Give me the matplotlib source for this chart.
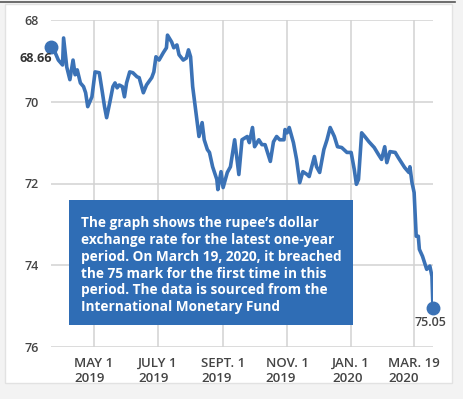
import numpy as np
import matplotlib.pyplot as plt
from matplotlib.patches import Rectangle

plt.rcParams['font.family'] = ['Open Sans', 'DejaVu Sans']

# rupee per dollar, days counted from 1 May 2019
days = [-41, -37, -34, -30, -29, -26, -23, -20, -18, -16, -13, -10, -8, -6, -2,
        1, 5, 8, 10, 12, 15, 18, 20, 22, 24, 27, 29, 31, 34, 37, 41, 43, 47, 50,
        55, 57, 59, 62, 66, 69, 70, 74, 76, 79, 81, 85, 88, 90, 92, 94, 98, 100,
        103, 105, 108, 110, 113, 117, 118, 121, 123, 127, 130, 134, 138, 141,
        146, 148, 151, 153, 157, 160, 163, 168, 171, 174, 177, 181, 182, 184,
        186, 190, 193, 196, 199, 203, 205, 210, 212, 215, 219, 222, 225, 229,
        232, 236, 241, 245, 248, 250, 252, 255, 258, 262, 267, 271, 274, 277,
        279, 282, 287, 290, 293, 296, 300, 301, 303, 305, 307, 309, 310, 313,
        317, 320, 322, 323]
rate = [68.66, 68.80, 68.98, 69.10, 68.44, 69.15, 69.46, 68.98, 69.34, 69.22,
        69.54, 69.63, 69.78, 70.12, 69.88, 69.27, 69.29, 69.78, 70.12, 70.39,
        70.02, 69.63, 69.54, 69.66, 69.59, 69.63, 69.88, 69.54, 69.27, 69.29,
        69.39, 69.41, 69.78, 69.59, 69.41, 69.27, 68.90, 68.98, 68.80, 68.68,
        68.37, 68.54, 68.68, 68.61, 68.85, 68.98, 68.93, 68.73, 68.90, 69.63,
        70.44, 70.85, 70.51, 70.93, 71.17, 71.24, 71.59, 71.90, 72.15, 71.71,
        72.10, 71.73, 71.59, 70.93, 71.78, 70.93, 70.85, 71.00, 70.63, 71.10,
        70.93, 71.05, 71.05, 71.46, 70.98, 70.85, 70.93, 70.93, 70.68, 70.76,
        70.63, 71.00, 71.41, 71.98, 71.71, 71.78, 71.83, 71.34, 71.59, 71.73,
        71.17, 70.93, 70.63, 70.85, 71.10, 71.12, 71.24, 71.24, 71.66, 72.02,
        71.90, 70.76, 70.85, 70.98, 71.12, 71.29, 71.41, 71.10, 71.49, 71.22,
        71.24, 71.37, 71.49, 71.61, 71.73, 71.59, 71.98, 72.22, 73.29, 73.29,
        73.61, 73.78, 74.10, 74.02, 74.27, 75.05]

tick_dates = ['2019-05-01', '2019-07-01', '2019-09-01', '2019-11-01', '2020-01-01', '2020-03-01']
tick_labels = ['MAY 1\n2019', 'JULY 1\n2019', 'SEPT. 1\n2019', 'NOV. 1\n2019',
               'JAN. 1\n2020', 'MAR. 19\n2020']
y_ticks = [68, 70, 72, 74, 76]

note = ("The graph shows the rupee\u2019s dollar\n"
        "exchange rate for the latest one-year\n"
        "period. On March 19, 2020, it breached\n"
        "the 75 mark for the first time in this\n"
        "period. The data is sourced from the\n"
        "International Monetary Fund")

W, H = 464, 399
blue = '#3b72b6'

base = np.datetime64('2019-05-01')
dates = base + np.array(days).astype('timedelta64[D]')

fig = plt.figure(figsize=(W / 100, H / 100), dpi=100)
fig.patch.set_facecolor('#f3f3f3')

# white panel behind the chart
fig.patches.append(Rectangle((5 / W, 1 - 383 / H), 447 / W, 379 / H, transform=fig.transFigure,
                             facecolor='white', edgecolor='#e2e2e2', lw=1, zorder=-2))
fig.add_artist(plt.Line2D([0, 455 / W], [1 - 1.5 / H, 1 - 1.5 / H], color='#555555', lw=1.2))

ax = fig.add_axes([51 / W, 1 - 347 / H, 382 / W, 327 / H])
ax.set_facecolor('none')
ax.plot(dates, rate, color=blue, lw=2.6, solid_joinstyle='round', zorder=3)
ax.plot(dates[[0, -1]], [rate[0], rate[-1]], 'o', color=blue, ms=9, zorder=4, clip_on=False)

ax.set_xlim(base + np.timedelta64(-41, 'D'), base + np.timedelta64(323, 'D'))
ax.set_ylim(76, 68)
ax.set_yticks(y_ticks)
ax.set_xticks(np.array(tick_dates, dtype='datetime64[D]'))
ax.set_xticklabels(tick_labels, multialignment='left', fontweight='semibold')
for lbl in ax.get_yticklabels():
    lbl.set_fontweight('semibold')
ax.grid(True, color='#d2d2d2', lw=1.1)
ax.set_axisbelow(True)
for s in ax.spines.values():
    s.set_visible(False)
ax.tick_params(length=0, colors='#444444', labelsize=9.5)
ax.tick_params(axis='y', pad=9, labelsize=9)
ax.tick_params(axis='x', pad=7)

fig.text(36 / W, 1 - 59 / H, '68.66', ha='center', va='center', fontsize=9,
         color='#333333', fontweight='bold')
fig.text(430 / W, 1 - 322 / H, '75.05', ha='center', va='center', fontsize=9,
         color='#444444', fontweight='semibold')

fig.patches.append(Rectangle((69 / W, 1 - 325 / H), 284 / W, 125 / H, transform=fig.transFigure,
                             facecolor='#2f6db5', edgecolor='none', zorder=5))
fig.text(81 / W, 1 - 216 / H, note, ha='left', va='top', fontsize=9.8, color='white',
         fontweight='bold', linespacing=1.26, zorder=6)

fig.savefig('out.png', dpi=100, facecolor=fig.get_facecolor())
